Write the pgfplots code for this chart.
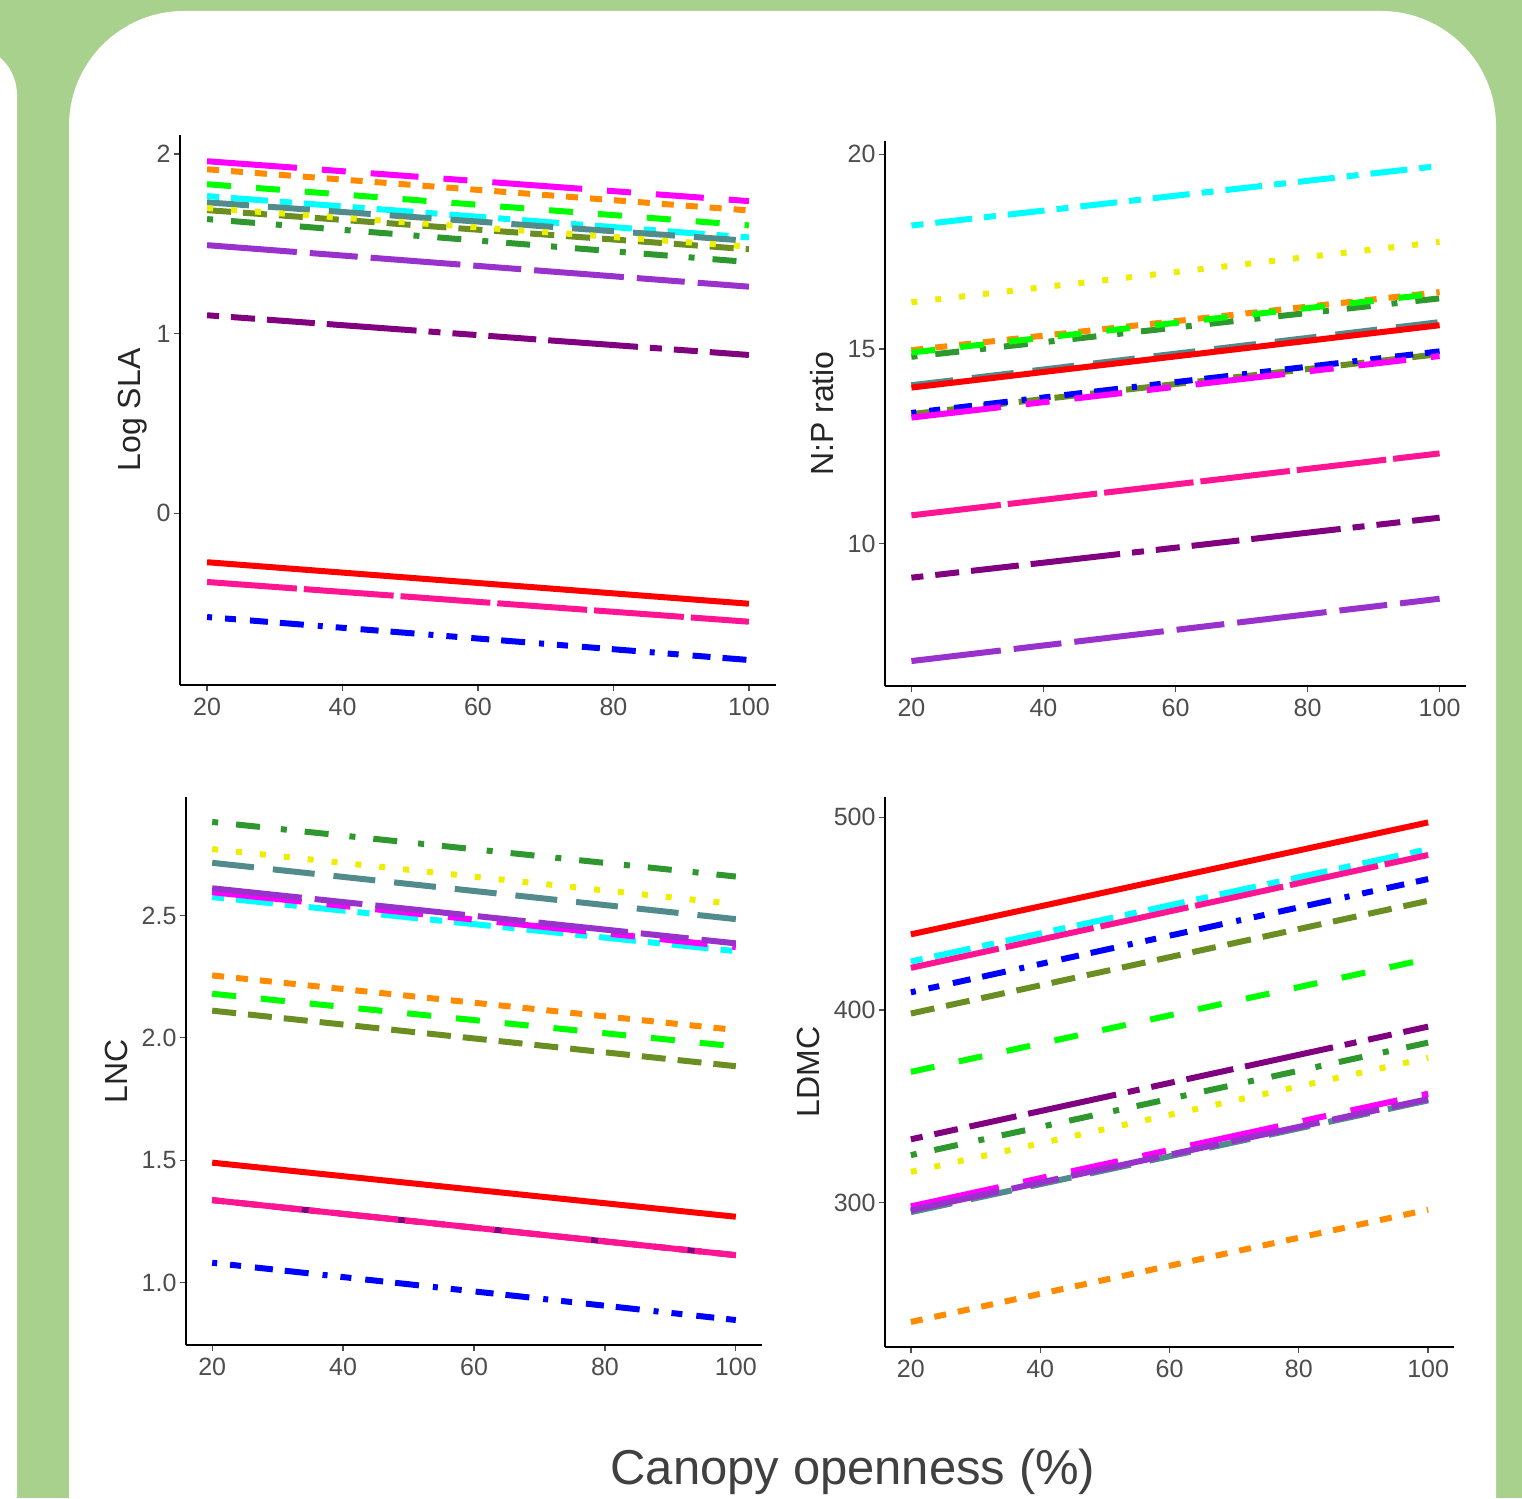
\documentclass[border=0pt]{standalone}
\usepackage{fontspec}
\setmainfont{Liberation Sans}
\usepackage{pgfplots}
\pgfplotsset{compat=1.18}
\definecolor{bgGreen}{HTML}{A9D18E}
\definecolor{cRed}{HTML}{FF0000}
\definecolor{cPink}{HTML}{FF1493}
\definecolor{cBlue}{HTML}{0000FF}
\definecolor{cMag}{HTML}{FF00FF}
\definecolor{cOrange}{HTML}{FF8C00}
\definecolor{cLime}{HTML}{00FF00}
\definecolor{cCyan}{HTML}{00FFFF}
\definecolor{cSlate}{HTML}{528B8B}
\definecolor{cOlive}{HTML}{6B8E23}
\definecolor{cYellow}{HTML}{EEEE00}
\definecolor{cForest}{HTML}{2E982E}
\definecolor{cOrchid}{HTML}{9932CC}
\definecolor{cPurple}{HTML}{800080}
\definecolor{tickgray}{HTML}{4D4D4D}
\tikzset{
  sp/.style={line width=6pt, line cap=butt, line join=miter},
  sRed/.style={sp, color=cRed, solid},
  sPink/.style={sp, color=cPink, dash pattern=on 90pt off 7pt},
  sBlue/.style={sp, color=cBlue, dash pattern=on 5pt off 13pt on 11pt off 14pt on 18pt off 12pt on 24pt off 14pt},
  sMag/.style={sp, color=cMag, dash pattern=on 90pt off 25pt on 24pt off 25pt on 48pt off 25pt on 24pt off 25pt},
  sOrange/.style={sp, color=cOrange, dash pattern=on 12pt off 12pt},
  sLime/.style={sp, color=cLime, dash pattern=on 24pt off 25pt},
  sCyan/.style={sp, color=cCyan, dash pattern=on 12pt off 12pt on 37pt off 12pt},
  sSlate/.style={sp, color=cSlate, dash pattern=on 42pt off 19pt},
  sOlive/.style={sp, color=cOlive, dash pattern=on 24pt off 12pt},
  sYellow/.style={sp, color=cYellow, dash pattern=on 6pt off 18pt},
  sForest/.style={sp, color=cForest, dash pattern=on 6pt off 18pt on 24pt off 21pt},
  sOrchid/.style={sp, color=cOrchid, dash pattern=on 90pt off 13pt on 48pt off 13pt},
  sPurple/.style={sp, color=cPurple, dash pattern=on 12pt off 12pt on 24pt off 12pt on 48pt off 12pt on 90pt off 12pt},
}
\pgfplotsset{
  panel/.style={
    scale only axis,
    axis lines=left,
    axis line style={-, line width=1.3pt, color=black},
    xmin=16, xmax=104,
    xtick={20,40,60,80,100},
    tick align=outside,
    major tick length=6pt,
    tick style={line width=1.3pt, color=tickgray},
    ticklabel style={font=\fontsize{25}{25}\selectfont, text=tickgray},
    xticklabel style={yshift=-4pt},
    /pgf/number format/assume math mode=true,
    label style={font=\fontsize{32}{32}\selectfont, text=black!85},
    ylabel style={anchor=center},
    clip=false,
  },
}
\begin{document}
\begin{tikzpicture}[x=1pt,y=1pt]
\fill[bgGreen] (0,0) rectangle (1522,1498);
\begin{scope}
\clip (0,0) rectangle (1522,1498);
\fill[white, rounded corners=50pt] (-200,1453) -- (17,1453) -- (17,-200) -- (-200,-200) -- cycle;
\fill[white, rounded corners=115pt] (69,-300) -- (69,1487) -- (1496,1487) -- (1496,-300) -- cycle;
\end{scope}

% Panel 1: Log SLA
\begin{axis}[panel, at={(180pt,813pt)}, anchor=south west, width=596pt, height=550pt,
  ymin=-0.955, ymax=2.105, ytick={0,1,2}, ylabel={Log SLA},
  ylabel style={at={(axis description cs:-0.079,0.5)}}]
\addplot[sCyan] coordinates {(20,1.765) (100,1.535)};
\addplot[sSlate] coordinates {(20,1.730) (100,1.516)};
\addplot[sOlive] coordinates {(20,1.687) (100,1.469)};
\addplot[sYellow] coordinates {(20,1.698) (100,1.484)};
\addplot[sForest] coordinates {(20,1.637) (100,1.398)};
\addplot[sOrange] coordinates {(20,1.914) (100,1.685)};
\addplot[sLime] coordinates {(20,1.831) (100,1.602)};
\addplot[sBlue] coordinates {(20,-0.577) (100,-0.816)};
\addplot[sRed] coordinates {(20,-0.272) (100,-0.503)};
\addplot[sPurple] coordinates {(20,1.102) (100,0.881)};
\addplot[sPink] coordinates {(20,-0.382) (100,-0.603)};
\addplot[sMag] coordinates {(20,1.959) (100,1.737)};
\addplot[sOrchid] coordinates {(20,1.492) (100,1.261)};
\end{axis}

% Panel 2: N:P ratio
\begin{axis}[panel, at={(885pt,812pt)}, anchor=south west, width=581pt, height=545pt,
  ymin=6.35, ymax=20.34, ytick={10,15,20}, ylabel={N:P ratio},
  ylabel style={at={(axis description cs:-0.108,0.5)}}]
\addplot[sCyan] coordinates {(20,18.17) (100,19.70)};
\addplot[sSlate] coordinates {(20,14.07) (100,15.69)};
\addplot[sOlive] coordinates {(20,13.33) (100,14.87)};
\addplot[sYellow] coordinates {(20,16.20) (100,17.75)};
\addplot[sForest] coordinates {(20,14.80) (100,16.30)};
\addplot[sOrange] coordinates {(20,14.97) (100,16.46)};
\addplot[sLime] coordinates {(20,14.91) (100,16.43)};
\addplot[sBlue] coordinates {(20,13.36) (100,14.94)};
\addplot[sRed] coordinates {(20,14.01) (100,15.61)};
\addplot[sPurple] coordinates {(20,9.13) (100,10.67)};
\addplot[sPink] coordinates {(20,10.73) (100,12.32)};
\addplot[sMag] coordinates {(20,13.24) (100,14.82)};
\addplot[sOrchid] coordinates {(20,6.99) (100,8.59)};
\end{axis}

% Panel 3: LNC
\begin{axis}[panel, at={(186pt,153pt)}, anchor=south west, width=576pt, height=548pt,
  ymin=0.745, ymax=2.984, ytick={1.0,1.5,2.0,2.5}, ylabel={LNC},
  yticklabel style={/pgf/number format/.cd, fixed, fixed zerofill, precision=1},
  ylabel style={at={(axis description cs:-0.12,0.5)}}]
\addplot[sCyan] coordinates {(20,2.575) (100,2.354)};
\addplot[sSlate] coordinates {(20,2.715) (100,2.485)};
\addplot[sOlive] coordinates {(20,2.111) (100,1.884)};
\addplot[sYellow] coordinates {(20,2.771) (100,2.546)};
\addplot[sForest] coordinates {(20,2.882) (100,2.659)};
\addplot[sOrange] coordinates {(20,2.255) (100,2.032)};
\addplot[sLime] coordinates {(20,2.180) (100,1.965)};
\addplot[sBlue] coordinates {(20,1.081) (100,0.847)};
\addplot[sRed] coordinates {(20,1.490) (100,1.269)};
\addplot[sPurple] coordinates {(20,1.337) (100,1.112)};
\addplot[sPink] coordinates {(20,1.337) (100,1.112)};
\addplot[sMag] coordinates {(20,2.595) (100,2.371)};
\addplot[sOrchid] coordinates {(20,2.611) (100,2.386)};
\end{axis}

% Panel 4: LDMC
\begin{axis}[panel, at={(885pt,151pt)}, anchor=south west, width=569pt, height=550pt,
  ymin=225, ymax=510.5, ytick={300,400,500}, ylabel={LDMC},
  ylabel style={at={(axis description cs:-0.135,0.5)}}]
\addplot[sCyan] coordinates {(20,425.1) (100,483.4)};
\addplot[sSlate] coordinates {(20,295.0) (100,353.0)};
\addplot[sOlive] coordinates {(20,398.1) (100,456.6)};
\addplot[sYellow] coordinates {(20,315.9) (100,375.1)};
\addplot[sForest] coordinates {(20,324.6) (100,383.0)};
\addplot[sOrange] coordinates {(20,238.0) (100,296.3)};
\addplot[sLime] coordinates {(20,367.8) (100,426.5)};
\addplot[sBlue] coordinates {(20,409.1) (100,467.9)};
\addplot[sRed] coordinates {(20,439.2) (100,497.3)};
\addplot[sPurple] coordinates {(20,332.8) (100,391.3)};
\addplot[sPink] coordinates {(20,421.8) (100,480.4)};
\addplot[sMag] coordinates {(20,298.0) (100,356.5)};
\addplot[sOrchid] coordinates {(20,295.9) (100,353.7)};
\end{axis}

\node[anchor=base, font=\fontsize{49}{49}\selectfont, text=black!75] at (853,13) {Canopy openness (\%)};

\pgfresetboundingbox
\path[use as bounding box] (0,0) rectangle (1522,1498);
\end{tikzpicture}
\end{document}
